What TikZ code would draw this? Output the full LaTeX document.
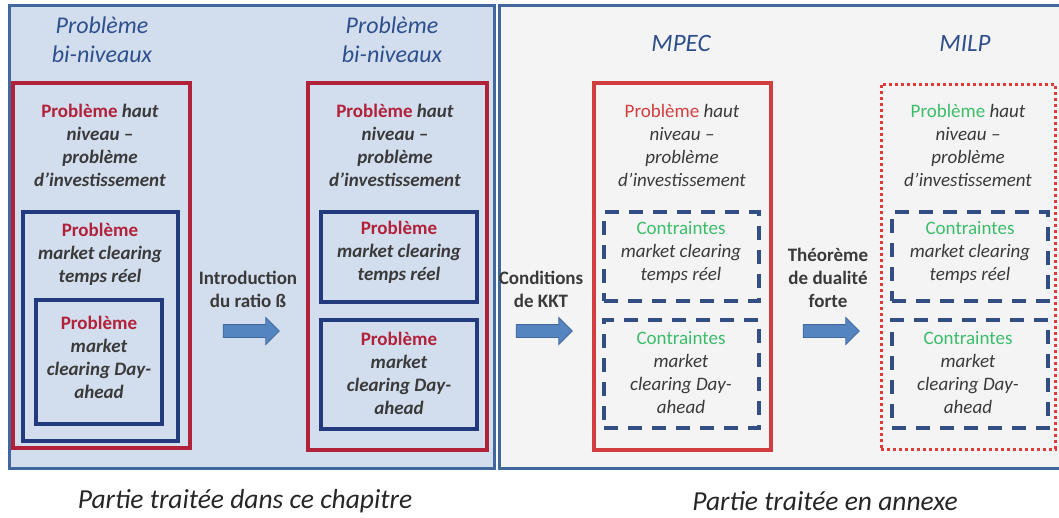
\documentclass[tikz,border=0pt]{standalone}
\usepackage{fontspec}
\setmainfont{Carlito}
\usetikzlibrary{positioning,shapes.arrows}

\definecolor{panelblue}{HTML}{41689C}
\definecolor{lightfill}{HTML}{D2DEEE}
\definecolor{greyfill}{HTML}{F4F4F4}
\definecolor{crimson}{HTML}{B2213A}
\definecolor{navy}{HTML}{233A7E}
\definecolor{mpecred}{HTML}{D23E3E}
\definecolor{kktgreen}{HTML}{3CBD6A}
\definecolor{dashnavy}{HTML}{334E82}
\definecolor{dotred}{HTML}{E03A3A}
\definecolor{titleblue}{HTML}{2E4F8C}
\definecolor{darktext}{HTML}{3A3A3A}
\definecolor{arrowblue}{HTML}{5585C0}
\definecolor{arrowedge}{HTML}{41699E}

\begin{document}
\begin{tikzpicture}[x=1pt, y=-1pt,
  panel/.style={draw=panelblue, line width=3pt, inner sep=0pt},
  box/.style={line width=3.5pt, inner sep=0pt},
  redbox/.style={box, draw=crimson},
  bluebox/.style={box, draw=navy},
  kktbox/.style={box, draw=dashnavy, dash pattern=on 14pt off 10pt},
  milpbox/.style={box, draw=dotred, line width=3pt, dash pattern=on 3pt off 3pt},
  txt/.style={align=center, text=darktext, inner sep=0pt, font=\fontsize{19}{23}\selectfont},
  txtbold/.style={txt, font=\fontsize{19}{23}\selectfont\bfseries},
  title/.style={align=center, text=titleblue, inner sep=0pt, font=\fontsize{24}{29}\selectfont\itshape},
  caption/.style={text=black!85, inner sep=0pt, font=\fontsize{27.5}{32}\selectfont\itshape},
  blockarrow/.style={single arrow, fill=arrowblue, draw=arrowedge, line width=0.8pt,
    minimum height=56pt, inner sep=6pt, single arrow head extend=7pt}]
  \useasboundingbox (0,0) rectangle (1059,517);

  \node[panel, fill=lightfill, minimum width=485pt, minimum height=463pt] (chap)  at (251.5,236.5) {};
  \node[panel, fill=greyfill,  minimum width=565pt, minimum height=463pt] (annex) at (781.5,236.5) {};

  \node[title] (biA) at (102,40) {Problème\\bi-niveaux};
  \node[title] (biB) at (392,40) {Problème\\bi-niveaux};
  \node[title, font=\fontsize{25}{29}\selectfont\itshape] (mpec) at (681,43) {MPEC};
  \node[title, font=\fontsize{25}{29}\selectfont\itshape] (milp) at (965,43) {MILP};

  \node[redbox,  minimum width=177pt, minimum height=365pt] (upA) at (101.5,265.5) {};
  \node[bluebox, minimum width=155pt, minimum height=229pt] (rtA) at (100.5,326.5) {};
  \node[bluebox, minimum width=126pt, minimum height=124pt] (daA) at (99,362) {};
  \node[txtbold] at (100,145) {\textcolor{crimson}{Problème} \textit{haut}\\\textit{niveau –}\\\textit{problème}\\\textit{d’investissement}};
  \node[txtbold] at (100,254) {\textcolor{crimson}{Problème}\\\textit{market clearing}\\\textit{temps réel}};
  \node[txtbold] at (99,357) {\textcolor{crimson}{Problème}\\\textit{market}\\\textit{clearing Day-}\\\textit{ahead}};

  \node[blockarrow] (beta) at (248,331) {};
  \node[txtbold] [above=16pt of beta] {Introduction\\du ratio ß};

  \node[redbox,  minimum width=179pt, minimum height=367pt] (upB) at (397.5,266.5) {};
  \node[bluebox, minimum width=156pt, minimum height=90pt]  (rtB) at (399,257) {};
  \node[bluebox, minimum width=156pt, minimum height=109pt] (daB) at (399,374.5) {};
  \node[txtbold] at (395,145) {\textcolor{crimson}{Problème} \textit{haut}\\\textit{niveau –}\\\textit{problème}\\\textit{d’investissement}};
  \node[txtbold] at (399,252) {\textcolor{crimson}{Problème}\\\textit{market clearing}\\\textit{temps réel}};
  \node[txtbold] at (399,373) {\textcolor{crimson}{Problème}\\\textit{market}\\\textit{clearing Day-}\\\textit{ahead}};

  \node[blockarrow] (kkt) at (541,331) {};
  \node[txtbold] [above=16pt of kkt] {Conditions\\de KKT};

  \node[box, draw=mpecred, minimum width=177pt, minimum height=367pt] (upC) at (682.5,266.5) {};
  \node[kktbox, minimum width=155pt, minimum height=89pt]  (rtC) at (681.5,256.5) {};
  \node[kktbox, minimum width=155pt, minimum height=108pt] (daC) at (681.5,374) {};
  \node[txt] at (682,145) {\textcolor{mpecred}{Problème} \textit{haut}\\\textit{niveau –}\\\textit{problème}\\\textit{d’investissement}};
  \node[txt] at (681,252) {\textcolor{kktgreen}{Contraintes}\\\textit{market clearing}\\\textit{temps réel}};
  \node[txt] at (681,373) {\textcolor{kktgreen}{Contraintes}\\\textit{market}\\\textit{clearing Day-}\\\textit{ahead}};

  \node[blockarrow] (dual) at (828,331) {};
  \node[txtbold] [above=16pt of dual] {Théorème\\de dualité\\forte};

  \node[milpbox, minimum width=174pt, minimum height=365pt] (upD) at (968,266.5) {};
  \node[kktbox, minimum width=156pt, minimum height=89pt]  (rtD) at (970,256.5) {};
  \node[kktbox, minimum width=156pt, minimum height=108pt] (daD) at (970,374) {};
  \node[txt] at (968,145) {\textcolor{kktgreen}{Problème} \textit{haut}\\\textit{niveau –}\\\textit{problème}\\\textit{d’investissement}};
  \node[txt] at (970,252) {\textcolor{kktgreen}{Contraintes}\\\textit{market clearing}\\\textit{temps réel}};
  \node[txt] at (968,373) {\textcolor{kktgreen}{Contraintes}\\\textit{market}\\\textit{clearing Day-}\\\textit{ahead}};

  \node[caption] (capA) at (245,501) {Partie traitée dans ce chapitre};
  \node[caption] (capB) at (825,501) {Partie traitée en annexe};
\end{tikzpicture}
\end{document}
